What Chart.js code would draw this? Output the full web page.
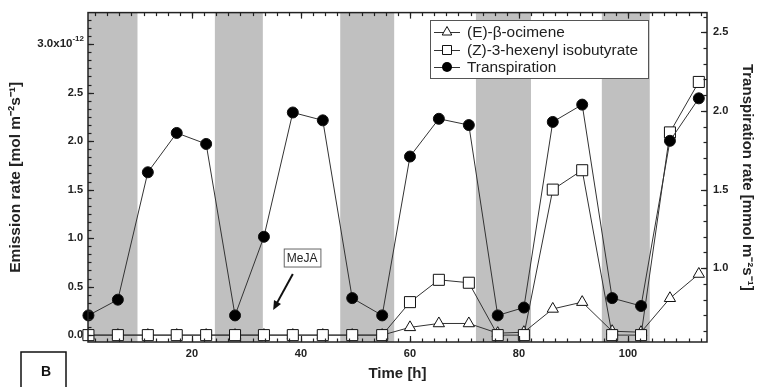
<!DOCTYPE html>
<html>
<head>
<meta charset="utf-8">
<script src="https://cdn.jsdelivr.net/npm/chart.js@4.4.0/dist/chart.umd.min.js"></script>
<style>
  html, body { margin: 0; padding: 0; background: #fff; }
  #wrap { width: 758px; height: 387px; position: relative; }
</style>
</head>
<body>
<div id="wrap"><canvas id="emissionChart"></canvas></div>
<script>
// sampling times [h]
var hours = [1, 6.4, 11.9, 17.2, 22.6, 27.9, 33.2, 38.5, 44, 49.4, 54.9,
             60, 65.3, 70.8, 76.1, 80.9, 86.2, 91.6, 97.1, 102.4, 107.7, 113];
// emission rates [x10^-12 mol m-2 s-1]
var ocimene = [0, 0, 0, 0, 0, 0, 0, 0, 0, 0, 0,
               0.08, 0.12, 0.12, 0.02, 0.03, 0.27, 0.34, 0.04, 0.03, 0.38, 0.63];
var hexenyl = [0, 0, 0, 0, 0, 0, 0, 0, 0, 0, 0,
               0.34, 0.57, 0.54, 0, 0, 1.50, 1.70, 0, 0, 2.09, 2.61];
// transpiration [mmol m-2 s-1]
var transpiration = [0.70, 0.80, 1.61, 1.86, 1.79, 0.70, 1.20, 1.99, 1.94, 0.81, 0.70,
                     1.71, 1.95, 1.91, 0.70, 0.75, 1.93, 2.04, 0.81, 0.76, 1.81, 2.08];
// dark periods [h]
var darkStart = [0, 24.2, 47.2, 72.1, 95.2];
var darkEnd = [10, 33, 57.1, 82.2, 104];

var seriesNames = ["(E)-\u03b2-ocimene", "(Z)-3-hexenyl isobutyrate", "Transpiration"];
var timeTicks = [20, 40, 60, 80, 100];
var emissionTicks = [0, 0.5, 1, 1.5, 2, 2.5, 3];
var transpTicks = [1, 1.5, 2, 2.5];

var FONT = "'Liberation Sans', Arial, sans-serif";
var INK = "#222";

function toPoints(vals) {
  return hours.map(function (h, i) { return { x: h, y: vals[i] }; });
}

function fixTicks(list) {
  return function (scale) {
    scale.ticks = list.map(function (v) { return { value: v }; });
  };
}

function drawTickMarks(ctx, scale, from, to, step, len, side, area) {
  var n = Math.round((to - from) / step);
  for (var i = 0; i <= n; i++) {
    var v = from + i * step;
    if (v < scale.min - 1e-9 || v > scale.max + 1e-9) continue;
    var p = Math.round(scale.getPixelForValue(v)) + 0.5;
    ctx.beginPath();
    if (side === "bottom") { ctx.moveTo(p, area.bottom); ctx.lineTo(p, area.bottom - len); }
    if (side === "top") { ctx.moveTo(p, area.top); ctx.lineTo(p, area.top + len); }
    if (side === "left") { ctx.moveTo(area.left, p); ctx.lineTo(area.left + len, p); }
    if (side === "right") { ctx.moveTo(area.right, p); ctx.lineTo(area.right - len, p); }
    ctx.stroke();
  }
}

function marker(ctx, style, x, y) {
  ctx.save();
  ctx.lineWidth = 1;
  ctx.strokeStyle = "#111";
  ctx.beginPath();
  if (style === "triangle") {
    ctx.moveTo(x, y - 5.5); ctx.lineTo(x + 4.8, y + 3); ctx.lineTo(x - 4.8, y + 3); ctx.closePath();
    ctx.fillStyle = "#fff"; ctx.fill(); ctx.stroke();
  } else if (style === "rect") {
    ctx.rect(x - 4.5, y - 4.5, 9, 9);
    ctx.fillStyle = "#fff"; ctx.fill(); ctx.stroke();
  } else {
    ctx.arc(x, y, 5, 0, Math.PI * 2);
    ctx.fillStyle = "#000"; ctx.fill();
  }
  ctx.restore();
}

var decor = {
  id: "decor",
  beforeDatasetsDraw: function (chart) {
    var ctx = chart.ctx, a = chart.chartArea, xs = chart.scales.x;
    ctx.save();
    ctx.beginPath();
    ctx.rect(a.left, a.top, a.right - a.left, a.bottom - a.top);
    ctx.clip();
    ctx.fillStyle = "#c0c0c0";
    for (var i = 0; i < darkStart.length; i++) {
      var x0 = xs.getPixelForValue(darkStart[i]);
      var x1 = xs.getPixelForValue(darkEnd[i]);
      ctx.fillRect(x0, a.top, x1 - x0, a.bottom - a.top);
    }
    ctx.restore();
  },
  afterDraw: function (chart) {
    var ctx = chart.ctx, a = chart.chartArea;
    var xs = chart.scales.x, ys = chart.scales.y, y1 = chart.scales.y1;
    ctx.save();
    // frame
    ctx.strokeStyle = INK;
    ctx.lineWidth = 1.5;
    ctx.strokeRect(a.left, a.top, a.right - a.left, a.bottom - a.top);
    // tick marks
    ctx.lineWidth = 1.2;
    drawTickMarks(ctx, xs, 0, 120, 20, 6, "bottom", a);
    drawTickMarks(ctx, xs, 0, 120, 20 / 9, 3.5, "bottom", a);
    drawTickMarks(ctx, xs, 0, 120, 20, 6, "top", a);
    drawTickMarks(ctx, xs, 0, 120, 20 / 9, 3.5, "top", a);
    drawTickMarks(ctx, ys, 0, 3, 0.5, 6, "left", a);
    drawTickMarks(ctx, ys, 0, 3.3, 0.5 / 6, 3.5, "left", a);
    drawTickMarks(ctx, y1, 1, 2.5, 0.5, 6, "right", a);
    drawTickMarks(ctx, y1, 0.6, 2.6, 0.1, 3.5, "right", a);

    // top left tick label with exponent
    var ty = ys.getPixelForValue(3);
    ctx.fillStyle = INK;
    ctx.textBaseline = "middle";
    ctx.textAlign = "right";
    ctx.font = "bold 8px " + FONT;
    var expW = ctx.measureText("-12").width;
    ctx.fillText("-12", a.left - 4, ty - 5);
    ctx.font = "bold 11.5px " + FONT;
    ctx.fillText("3.0x10", a.left - 4 - expW, ty);

    // legend
    var lx = 430, lyTop = 20, lw = 218, lh = 58;
    ctx.fillStyle = "#fff";
    ctx.fillRect(lx, lyTop, lw, lh);
    ctx.strokeStyle = "#555";
    ctx.lineWidth = 1;
    ctx.strokeRect(lx + 0.5, lyTop + 0.5, lw, lh);
    var styles = ["triangle", "rect", "circle"];
    var rowsY = [32, 50, 67];
    ctx.font = "15.4px " + FONT;
    ctx.textAlign = "left";
    for (var i = 0; i < seriesNames.length; i++) {
      ctx.strokeStyle = "#333";
      ctx.beginPath();
      ctx.moveTo(lx + 4, rowsY[i] + 0.5);
      ctx.lineTo(lx + 30, rowsY[i] + 0.5);
      ctx.stroke();
      marker(ctx, styles[i], lx + 17, rowsY[i]);
      ctx.fillStyle = INK;
      ctx.fillText(seriesNames[i], lx + 37, rowsY[i] + 1);
    }

    // MeJA annotation (data coordinates)
    var bx = xs.getPixelForValue(40.2), by = ys.getPixelForValue(0.8);
    ctx.font = "12px " + FONT;
    var tw = ctx.measureText("MeJA").width;
    ctx.fillStyle = "#fff";
    ctx.fillRect(bx - tw / 2 - 3, by - 9, tw + 6, 18);
    ctx.strokeStyle = "#666";
    ctx.strokeRect(bx - tw / 2 - 3 + 0.5, by - 9 + 0.5, tw + 6, 18);
    ctx.fillStyle = INK;
    ctx.textAlign = "center";
    ctx.fillText("MeJA", bx, by + 1);
    var ax0 = xs.getPixelForValue(38.5), ay0 = ys.getPixelForValue(0.63);
    var ax1 = xs.getPixelForValue(34.9), ay1 = ys.getPixelForValue(0.26);
    var ang = Math.atan2(ay1 - ay0, ax1 - ax0);
    ctx.strokeStyle = "#111";
    ctx.fillStyle = "#111";
    ctx.lineWidth = 2;
    ctx.beginPath();
    ctx.moveTo(ax0, ay0);
    ctx.lineTo(ax1 - 6 * Math.cos(ang), ay1 - 6 * Math.sin(ang));
    ctx.stroke();
    ctx.beginPath();
    ctx.moveTo(ax1, ay1);
    ctx.lineTo(ax1 - 9 * Math.cos(ang) + 4 * Math.sin(ang), ay1 - 9 * Math.sin(ang) - 4 * Math.cos(ang));
    ctx.lineTo(ax1 - 9 * Math.cos(ang) - 4 * Math.sin(ang), ay1 - 9 * Math.sin(ang) + 4 * Math.cos(ang));
    ctx.closePath();
    ctx.fill();

    // panel letter
    ctx.strokeStyle = "#111";
    ctx.lineWidth = 1.5;
    ctx.strokeRect(21, 352, 45, 40);
    ctx.font = "bold 14px " + FONT;
    ctx.fillStyle = "#111";
    ctx.textAlign = "center";
    ctx.fillText("B", 46, 372);
    ctx.restore();
  }
};

var lineStyle = { showLine: true, borderColor: "#333", borderWidth: 1, pointBorderColor: "#111",
                  pointBorderWidth: 1, clip: false };

var ctx = document.getElementById("emissionChart");
var chart = new Chart(ctx, {
  type: "scatter",
  data: {
    datasets: [
      Object.assign({ label: seriesNames[2], data: toPoints(transpiration), yAxisID: "y1", order: 0,
        pointStyle: "circle", pointRadius: 5.5, pointBackgroundColor: "#000" }, lineStyle),
      Object.assign({ label: seriesNames[1], data: toPoints(hexenyl), yAxisID: "y", order: 1,
        pointStyle: "rect", pointRadius: 7.8, pointBackgroundColor: "#fff" }, lineStyle),
      Object.assign({ label: seriesNames[0], data: toPoints(ocimene), yAxisID: "y", order: 2,
        pointStyle: "triangle", pointRadius: 6.5, pointBackgroundColor: "#fff" }, lineStyle)
    ]
  },
  options: {
    responsive: true,
    maintainAspectRatio: false,
    animation: false,
    devicePixelRatio: 1,
    layout: { padding: { top: 8, left: 0, right: 0, bottom: 0 } },
    plugins: { legend: { display: false }, tooltip: { enabled: false } },
    scales: {
      x: {
        type: "linear", min: 0.92, max: 114.5,
        afterBuildTicks: fixTicks(timeTicks),
        afterFit: function (s) { s.height = 45; },
        grid: { display: false, drawTicks: false }, border: { display: false },
        ticks: { padding: 5, color: INK, font: { family: FONT, size: 11, weight: "bold" } },
        title: { display: true, text: "Time [h]", color: INK, padding: { top: 0, bottom: 4 },
                 font: { family: FONT, size: 15, weight: "bold" } }
      },
      y: {
        position: "left", min: -0.071, max: 3.325,
        afterBuildTicks: fixTicks(emissionTicks),
        afterFit: function (s) { s.width = 88; },
        grid: { display: false, drawTicks: false }, border: { display: false },
        ticks: { padding: 5, color: INK, font: { family: FONT, size: 11, weight: "bold" },
                 callback: function (v) { return v === 3 ? "" : v.toFixed(1); } },
        title: { display: true, text: "Emission rate [mol m\u207b\u00b2s\u207b\u00b9]", color: INK,
                 padding: { top: 6, bottom: 0 }, font: { family: FONT, size: 15.5, weight: "bold" } }
      },
      y1: {
        position: "right", min: 0.531, max: 2.625,
        afterBuildTicks: fixTicks(transpTicks),
        afterFit: function (s) { s.width = 51; },
        grid: { display: false, drawTicks: false }, border: { display: false },
        ticks: { padding: 6, color: INK, font: { family: FONT, size: 11, weight: "bold" },
                 callback: function (v) { return v.toFixed(1); } },
        title: { display: true, text: "Transpiration rate [mmol m\u207b\u00b2s\u207b\u00b9]", color: INK,
                 padding: { top: 2, bottom: 0 }, font: { family: FONT, size: 15, weight: "bold" } }
      }
    }
  },
  plugins: [decor]
});
</script>
</body>
</html>
